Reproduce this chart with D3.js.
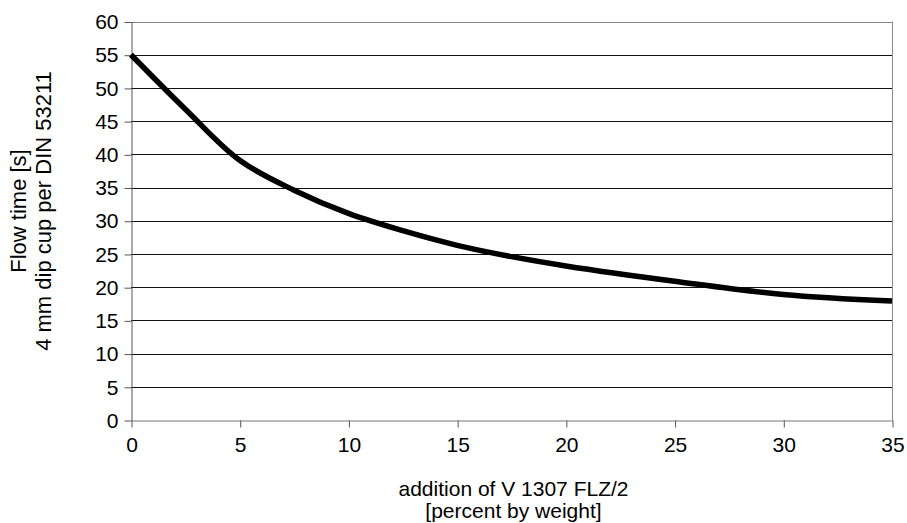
<!DOCTYPE html>
<html>
<head>
<meta charset="utf-8">
<script src="https://cdn.jsdelivr.net/npm/d3@7"></script>
<style>
  html, body { margin: 0; padding: 0; background: #fff; }
  svg { display: block; font-family: "Liberation Sans", Arial, sans-serif; }
</style>
</head>
<body>
<svg id="chart" width="907" height="523"></svg>
<script>
// Data
const additionPct = [0, 2.5, 5, 7.5, 10, 12.5, 15, 17.5, 20, 25, 30, 35];
const flowTime    = [55, 46.8, 39.1, 34.6, 31.1, 28.5, 26.3, 24.6, 23.2, 20.9, 18.9, 17.9];
const xTicks = [0, 5, 10, 15, 20, 25, 30, 35];
const yTicks = [0, 5, 10, 15, 20, 25, 30, 35, 40, 45, 50, 55, 60];
const xTitleLines = ["addition of V 1307 FLZ/2", "[percent by weight]"];
const yTitleLines = ["Flow time [s]", "4 mm dip cup per DIN 53211"];

const svg = d3.select("#chart");
const mLeft = 131, mRight = 892, mTop = 21.5, mBottom = 420;

const x = d3.scaleLinear().domain([0, 35]).range([mLeft, mRight]);
const y = d3.scaleLinear().domain([0, 60]).range([mBottom, mTop]);

// Gridlines
svg.append("g").selectAll("line").data(yTicks.filter(d => d > 0)).join("line")
  .attr("x1", mLeft).attr("x2", mRight)
  .attr("y1", d => Math.round(y(d)) + 0.5).attr("y2", d => Math.round(y(d)) + 0.5)
  .attr("stroke", d => d === 60 ? "#888" : "#111").attr("stroke-width", 1);

// Right border
svg.append("line")
  .attr("x1", Math.round(mRight) + 0.5).attr("x2", Math.round(mRight) + 0.5)
  .attr("y1", mTop).attr("y2", mBottom)
  .attr("stroke", "#888");

// Y axis
const yAxis = d3.axisLeft(y).tickValues(yTicks).tickSize(7).tickPadding(6).tickSizeOuter(0);
const gy = svg.append("g").attr("transform", `translate(${mLeft + 0.5},0.5)`).call(yAxis);
gy.select(".domain").attr("stroke", "#555");
gy.selectAll(".tick line").attr("stroke", "#555");
gy.selectAll(".tick text").attr("font-size", 21).attr("fill", "#000")
  .attr("font-family", "Liberation Sans, Arial, sans-serif");

// X axis
const xAxis = d3.axisBottom(x).tickValues(xTicks).tickSize(7).tickPadding(10).tickSizeOuter(0);
const gx = svg.append("g").attr("transform", `translate(0.5,${Math.round(mBottom) + 0.5})`).call(xAxis);
gx.select(".domain").attr("stroke", "#777");
gx.selectAll(".tick line").attr("stroke", "#555");
gx.selectAll(".tick text").attr("font-size", 21).attr("fill", "#000")
  .attr("font-family", "Liberation Sans, Arial, sans-serif");

// Curve
const pts = additionPct.map((d, i) => [d, flowTime[i]]);
const line = d3.line().x(d => x(d[0])).y(d => y(d[1])).curve(d3.curveCatmullRom.alpha(0.5));
svg.append("path").datum(pts)
  .attr("d", line)
  .attr("fill", "none").attr("stroke", "#000")
  .attr("stroke-width", 5.5).attr("stroke-linejoin", "round").attr("stroke-linecap", "butt");

// X title
svg.append("g").selectAll("text").data(xTitleLines).join("text")
  .attr("x", (mLeft + mRight) / 2 + 2)
  .attr("y", (d, i) => 496 + i * 22)
  .attr("text-anchor", "middle")
  .attr("font-size", 21).attr("fill", "#000")
  .text(d => d);

// Y title
svg.append("g").attr("transform", "translate(0,211) rotate(-90)")
  .selectAll("text").data(yTitleLines).join("text")
  .attr("x", 0)
  .attr("y", (d, i) => 26 + i * 25)
  .attr("text-anchor", "middle")
  .attr("font-size", 22).attr("fill", "#000")
  .text(d => d);
</script>
</body>
</html>
